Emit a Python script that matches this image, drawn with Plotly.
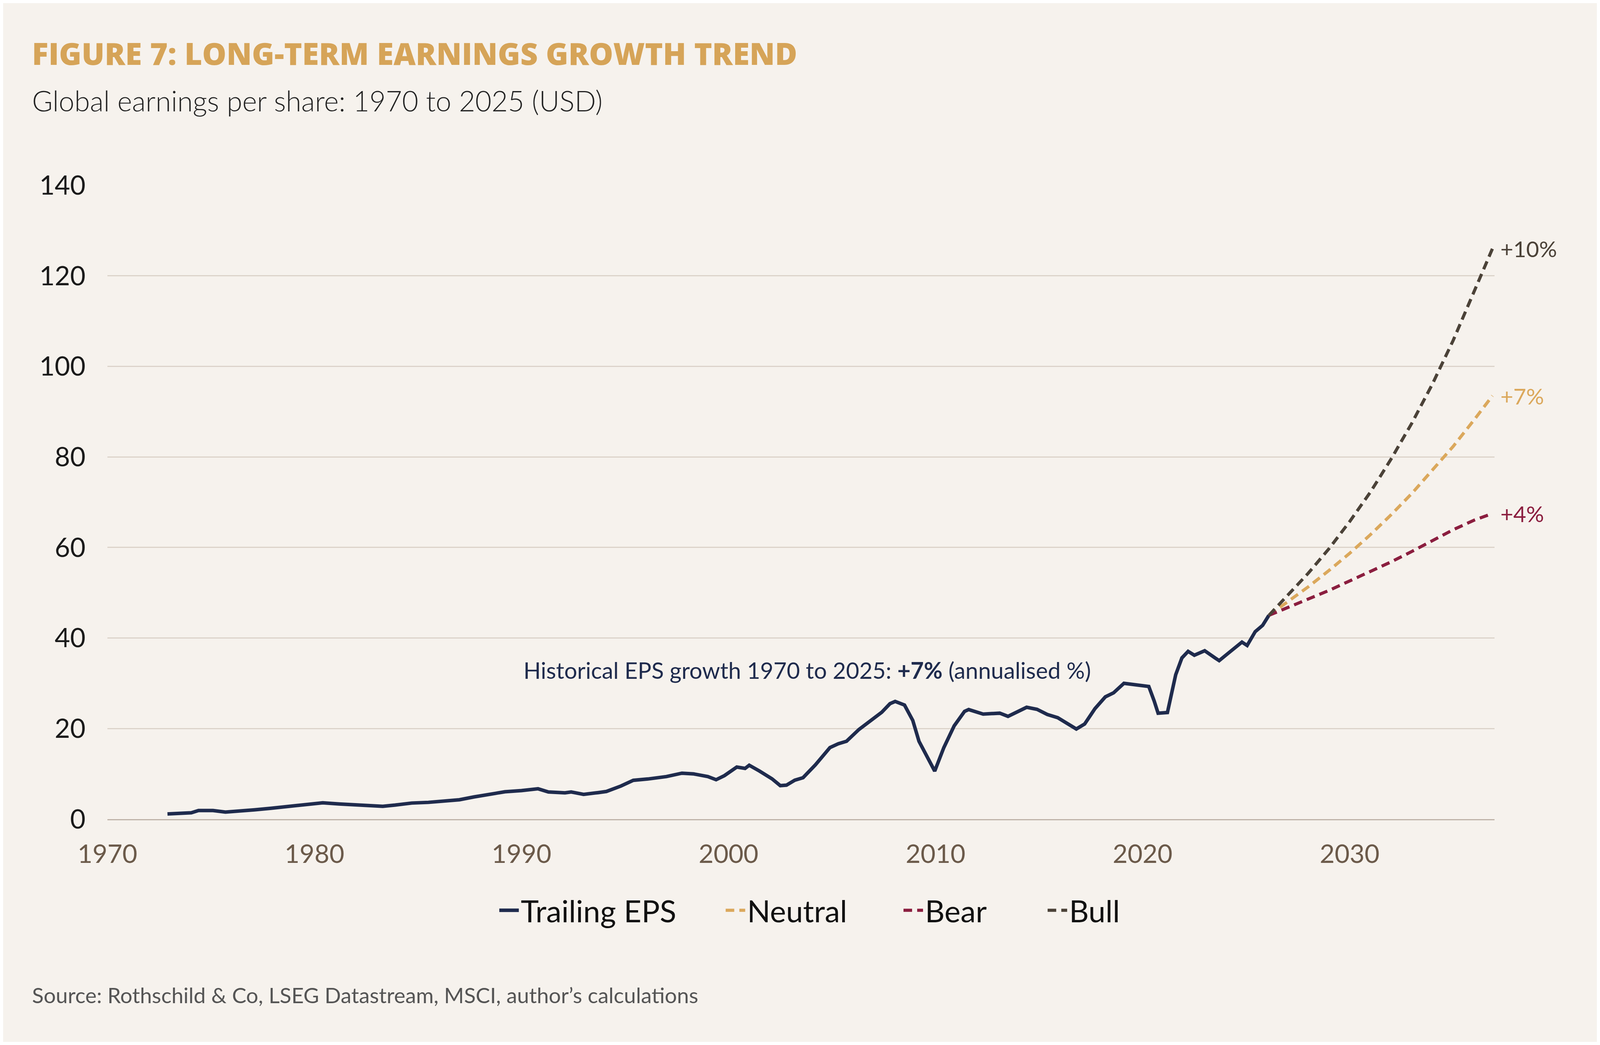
import plotly.graph_objects as go

# trailing EPS (year, USD)
eps_year = [1972.9, 1973.5, 1974.05, 1974.4, 1975.1, 1975.7, 1976.3, 1977.1, 1977.9, 1978.7,
            1979.4, 1980.4, 1981.2, 1982.4, 1983.3, 1983.9, 1984.7, 1985.5, 1986.2, 1987.0,
            1987.7, 1988.5, 1989.2, 1990.0, 1990.8, 1991.3, 1992.1, 1992.4, 1993.0, 1993.7,
            1994.1, 1994.8, 1995.4, 1996.1, 1997.0, 1997.75, 1998.3, 1999.0, 1999.4, 1999.8,
            2000.4, 2000.8, 2001.0, 2001.5, 2002.1, 2002.5, 2002.8, 2003.2, 2003.6, 2004.2,
            2004.9, 2005.3, 2005.7, 2006.3, 2006.9, 2007.4, 2007.8, 2008.05, 2008.5, 2008.9,
            2009.2, 2009.6, 2009.96, 2010.4, 2010.9, 2011.4, 2011.6, 2012.3, 2013.1, 2013.5,
            2014.0, 2014.4, 2014.9, 2015.4, 2015.9, 2016.4, 2016.8, 2017.2, 2017.7, 2018.2,
            2018.6, 2019.1, 2019.8, 2020.3, 2020.56, 2020.75, 2021.2, 2021.4, 2021.6, 2021.9,
            2022.2, 2022.5, 2023.0, 2023.5, 2023.7, 2024.1, 2024.8, 2025.05, 2025.44, 2025.8,
            2026.1]
eps_value = [1.15, 1.3, 1.4, 1.9, 1.9, 1.55, 1.7, 2.05, 2.4, 2.75,
             3.05, 3.6, 3.35, 2.95, 2.83, 3.1, 3.55, 3.7, 3.9, 4.27,
             4.9, 5.55, 6.04, 6.3, 6.7, 6.0, 5.8, 6.0, 5.47, 5.85,
             6.1, 7.3, 8.57, 8.86, 9.4, 10.15, 10.0, 9.4, 8.7, 9.6,
             11.5, 11.2, 11.9, 10.6, 8.9, 7.4, 7.5, 8.6, 9.15, 12.0,
             15.8, 16.65, 17.2, 19.8, 22.0, 23.6, 25.5, 26.0, 25.2, 21.8,
             17.2, 13.5, 10.6, 15.8, 20.6, 23.8, 24.2, 23.2, 23.4, 22.7,
             23.8, 24.7, 24.25, 23.1, 22.4, 21.0, 19.9, 21.0, 24.4, 27.0,
             27.9, 30.0, 29.7, 29.3, 26.1, 23.4, 23.55, 27.55, 31.9, 35.6,
             37.05, 36.2, 37.2, 35.6, 35.0, 36.5, 39.1, 38.35, 41.4, 42.8,
             45.0]

# scenario projections
proj_year = [2026.1, 2027, 2028, 2029, 2030, 2031, 2032, 2033, 2034, 2035, 2036, 2036.9]
neutral = [45, 47.9, 51.3, 54.9, 58.7, 62.8, 67.2, 71.9, 77.0, 82.3, 88.1, 93.5]
bear = [45, 46.7, 48.6, 50.5, 52.6, 54.7, 56.8, 59.1, 61.5, 63.9, 66.0, 67.5]
bull = [45, 49.3, 54.3, 59.7, 65.7, 72.2, 79.5, 87.4, 96.1, 105.7, 116.3, 126]

scenarios = [("Neutral", neutral, "#dba85c", "+7%"),
             ("Bear", bear, "#8b1e3f", "+4%"),
             ("Bull", bull, "#4b4238", "+10%")]

navy = "#1f2b4d"
bg = "#f6f2ed"
font = "Lato"

# one legend per series so the entries can be spaced like the original
legend_x = [0.2811, 0.4443, 0.5725, 0.6764]
legend_names = ["legend", "legend2", "legend3", "legend4"]

fig = go.Figure()
fig.add_trace(go.Scatter(x=eps_year, y=eps_value, mode="lines", name="Trailing EPS",
                         legend=legend_names[0], showlegend=True,
                         line=dict(color=navy, width=9)))
for i, (name, vals, col, lab) in enumerate(scenarios):
    fig.add_trace(go.Scatter(x=proj_year, y=vals, mode="lines", name=name,
                             legend=legend_names[i + 1], showlegend=True,
                             line=dict(color=col, width=8, dash="22px,13px")))
    fig.add_annotation(x=proj_year[-1], y=vals[-1], text=lab, showarrow=False,
                       xanchor="left", yanchor="middle", xshift=18,
                       font=dict(family=font, size=57, color=col))

fig.add_annotation(x=2003.8, y=33, showarrow=False, xanchor="center", yanchor="middle",
                   text="Historical EPS growth 1970 to 2025: <b>+7%</b> (annualised %)",
                   font=dict(family=font, size=58.5, color=navy))
fig.add_annotation(xref="paper", yref="paper", x=-0.0549, y=1.134, xanchor="left",
                   yanchor="middle", text="Global earnings per share: 1970 to 2025 (USD)",
                   showarrow=False, font=dict(family=font, size=72, color="#222222", weight=300))
fig.add_annotation(xref="paper", yref="paper", x=-0.0549, y=-0.2774, xanchor="left",
                   yanchor="middle",
                   text="Source: Rothschild &amp; Co, LSEG Datastream, MSCI, author’s calculations",
                   showarrow=False, font=dict(family=font, size=55, color="#555555"))

legend_style = dict(orientation="h", y=-0.144, yanchor="middle", xanchor="left",
                    itemwidth=50, font=dict(family=font, size=78, color="#111111"),
                    bgcolor="rgba(0,0,0,0)")
legends = {}
for lname, lx in zip(legend_names, legend_x):
    legends[lname] = dict(x=lx, **legend_style)

fig.update_layout(
    autosize=True, showlegend=True,
    paper_bgcolor=bg, plot_bgcolor=bg,
    margin=dict(l=267, r=262, t=466, b=570),
    title=dict(text="FIGURE 7: LONG-TERM EARNINGS GROWTH TREND", xref="container", x=0.0181,
               y=0.951, yanchor="middle",
               font=dict(family="Open Sans", size=78, color="#d6a458", weight=800)),
    **legends,
)
fig.update_xaxes(range=[1970, 2037], dtick=10, tick0=1970, showgrid=False, zeroline=False,
                 showline=True, linecolor="#bfb3a8", linewidth=3, ticks="",
                 tickfont=dict(family=font, size=66, color="#6b5a4a"), ticklabelstandoff=30)
fig.update_yaxes(range=[0, 140], dtick=20, showgrid=True, gridcolor="#dcd3ca", gridwidth=3,
                 zeroline=False, ticks="", tickfont=dict(family=font, size=68, color="#1a1a1a"),
                 ticklabelstandoff=55)

fig.write_html("out.html")
